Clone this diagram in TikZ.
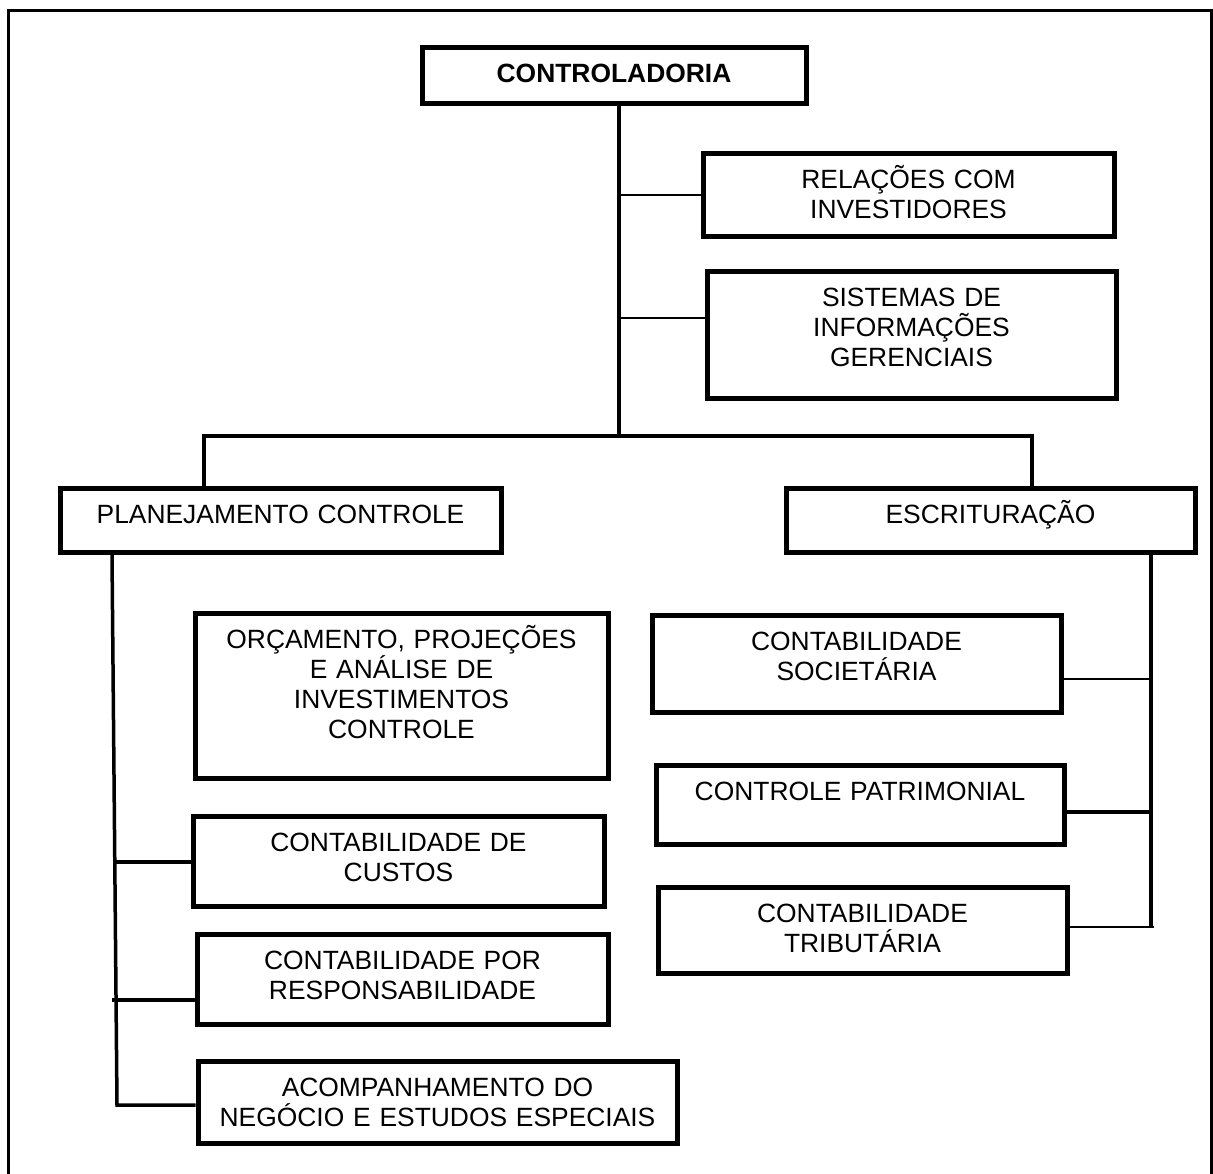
\documentclass[tikz,border=0pt]{standalone}
\usepackage{fontspec}
\setmainfont{Liberation Sans}

\begin{document}
\begin{tikzpicture}[x=1pt, y=-1pt,
    caixa/.style={draw, line width=5pt, anchor=north west, align=center,
      inner xsep=0pt, inner ysep=0pt, text height=35pt,
      font=\fontsize{26.4}{30}\selectfont},
    tronco/.style={line width=3.5pt},
    fio/.style={line width=2pt},
    fiogrosso/.style={line width=3.2pt}]

  % Moldura
  \useasboundingbox (0,0) rectangle (1213,1173);
  \draw[line width=2.5pt] (8.5,1180) -- (8.5,10.5) -- (1211.5,10.5) -- (1211.5,1180);

  % Topo
  \node[caixa, text width=384pt, text depth=21pt] (ctrl) at (419.5,44.5) {\bfseries CONTROLADORIA};
  \node[caixa, text width=411pt, text depth=48pt] (rel) at (700.5,150.5) {RELAÇÕES COM\\INVESTIDORES};
  \node[caixa, text width=409pt, text depth=92pt] (sis) at (704.5,268.5) {SISTEMAS DE\\INFORMAÇÕES\\GERENCIAIS};

  % Dois ramos
  \node[caixa, text width=441pt, text depth=29pt] (planej) at (57.5,485.5) {PLANEJAMENTO CONTROLE};
  \node[caixa, text width=409pt, text depth=29pt] (esc) at (783.5,485.5) {ESCRITURAÇÃO};

  % Ramo da esquerda
  \node[caixa, text width=413pt, text depth=130pt] (orc) at (192.5,610.5) {ORÇAMENTO, PROJEÇÕES\\E ANÁLISE DE\\INVESTIMENTOS\\CONTROLE};
  \node[caixa, text width=411pt, text depth=55pt] (cust) at (190.5,813.5) {CONTABILIDADE DE\\CUSTOS};
  \node[caixa, text width=411pt, text depth=55pt] (resp) at (194.5,931.5) {CONTABILIDADE POR\\RESPONSABILIDADE};
  \node[caixa, text width=479pt, text depth=47pt] (acomp) at (195.5,1058.5) {ACOMPANHAMENTO DO\\NEGÓCIO E ESTUDOS ESPECIAIS};

  % Ramo da direita
  \node[caixa, text width=409pt, text depth=62pt] (soc) at (649.5,612.5) {CONTABILIDADE\\SOCIETÁRIA};
  \node[caixa, text width=408pt, text depth=44pt] (pat) at (653.5,762.5) {CONTROLE PATRIMONIAL};
  \node[caixa, text width=409pt, text depth=51pt] (tri) at (655.5,884.5) {CONTABILIDADE\\TRIBUTÁRIA};

  % Ligacoes do topo
  \coordinate (topo) at (619,436);
  \coordinate (barE) at (204,436);
  \coordinate (barD) at (1032,436);
  \draw[tronco] (ctrl.south -| topo) -- (topo);
  \draw[line width=3.3pt] (barE |- planej.north) -- (barE) -- (barD) -- (barD |- esc.north);
  \draw[fio] (topo |- rel.west) -- (rel.west);
  \coordinate (cSis) at (619,318);
  \draw[fio] (cSis) -- (cSis -| sis.west);

  % Tronco da esquerda
  \coordinate (esqA) at (112,552);
  \coordinate (esqB) at (117,1105);
  \draw[tronco] (planej.south -| esqA) -- (esqB) -- (esqB -| acomp.west);
  \coordinate (cCus) at (114.8,862);
  \draw[fiogrosso] (cCus) -- (cCus -| cust.west);
  \coordinate (cResp) at (112,1000);
  \draw[fiogrosso] (cResp) -- (cResp -| resp.west);

  % Tronco da direita
  \coordinate (dirA) at (1151,552);
  \coordinate (dirB) at (1151,926);
  \draw[tronco] (esc.south -| dirA) -- (dirB);
  \coordinate (cSoc) at (1151,679);
  \draw[fio] (cSoc) -- (cSoc -| soc.east);
  \coordinate (cPat) at (1152,812);
  \draw[fiogrosso] (cPat) -- (cPat -| pat.east);
  \coordinate (cTri) at (1154,927);
  \draw[fio] (cTri) -- (cTri -| tri.east);

\end{tikzpicture}
\end{document}
